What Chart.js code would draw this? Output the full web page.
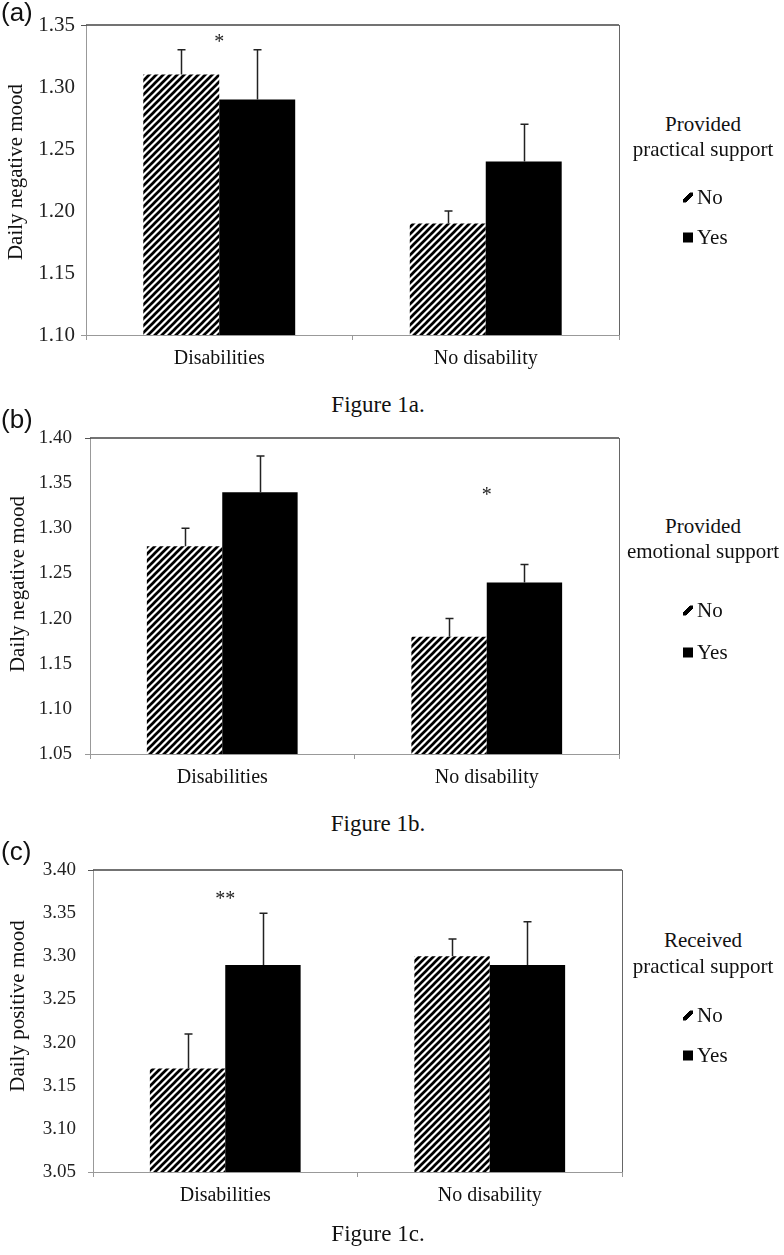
<!DOCTYPE html>
<html>
<head>
<meta charset="utf-8">
<script src="https://cdn.jsdelivr.net/npm/chart.js@4.4.0/dist/chart.umd.min.js"></script>
<style>
body { margin: 0; background: #fff; }
#page { position: relative; width: 784px; height: 1255px; overflow: hidden;
        font-family: 'Liberation Serif', 'Times New Roman', serif; color: #111; }
#page canvas { position: absolute; left: 0; }
.txt { position: absolute; white-space: nowrap; line-height: 1; transform: translate(-50%, -50%); }
.ytitle { position: absolute; white-space: nowrap; line-height: 1; font-size: 21px;
          transform: translate(-50%, -50%) rotate(-90deg); }
.tag { position: absolute; left: 1px; font-family: 'Liberation Sans', Arial, sans-serif;
       font-size: 26px; line-height: 1; transform: translateY(-50%); }
.key { position: absolute; font-size: 21px; line-height: 1; white-space: nowrap; transform: translateY(-50%); }
.key i { display: inline-block; width: 10px; height: 10px; margin-right: 4px; vertical-align: 1px; }
.key i.hatch { background: linear-gradient(135deg, transparent 36%, #000 36%, #000 64%, transparent 64%); }
.key i.solid { background: #000; }
</style>
</head>
<body>
<div id="page"></div>
<script>
const categories = ['Disabilities', 'No disability'];
const seriesNames = ['No', 'Yes'];

// Figure 1a - provided practical support, daily negative mood
const ticksA = [1.10, 1.15, 1.20, 1.25, 1.30, 1.35];
const noA = [1.31, 1.19];
const yesA = [1.29, 1.24];
const noErrA = [0.02, 0.01];
const yesErrA = [0.04, 0.03];
const sigA = ['*', ''];

// Figure 1b - provided emotional support, daily negative mood
const ticksB = [1.05, 1.10, 1.15, 1.20, 1.25, 1.30, 1.35, 1.40];
const noB = [1.28, 1.18];
const yesB = [1.34, 1.24];
const noErrB = [0.02, 0.02];
const yesErrB = [0.04, 0.02];
const sigB = ['', '*'];

// Figure 1c - received practical support, daily positive mood
const ticksC = [3.05, 3.10, 3.15, 3.20, 3.25, 3.30, 3.35, 3.40];
const noC = [3.17, 3.30];
const yesC = [3.29, 3.29];
const noErrC = [0.04, 0.02];
const yesErrC = [0.06, 0.05];
const sigC = ['**', ''];

const panels = [
  { tag: '(a)', tagY: 12, top: 0, height: 380, plotTop: 25, plotBottom: 335, left: 86, right: 619,
    ticks: ticksA, no: noA, yes: yesA, noErr: noErrA, yesErr: yesErrA, sig: sigA, sigAt: 1.3355,
    tickSize: 21, tickPad: 6, yTitle: 'Daily negative mood', yTitleX: 15, yTitleY: 172,
    legend: ['Provided', 'practical support'], legY: [124, 149, 197, 237],
    caption: 'Figure 1a.', capY: 404 },
  { tag: '(b)', tagY: 419, top: 400, height: 400, plotTop: 438, plotBottom: 754, left: 90, right: 619,
    ticks: ticksB, no: noB, yes: yesB, noErr: noErrB, yesErr: yesErrB, sig: sigB, sigAt: 1.336,
    tickSize: 19, tickPad: 13, yTitle: 'Daily negative mood', yTitleX: 17, yTitleY: 584,
    legend: ['Provided', 'emotional support'], legY: [526, 551, 610, 652],
    caption: 'Figure 1b.', capY: 823 },
  { tag: '(c)', tagY: 851, top: 830, height: 400, plotTop: 870, plotBottom: 1172, left: 93, right: 622,
    ticks: ticksC, no: noC, yes: yesC, noErr: noErrC, yesErr: yesErrC, sig: sigC, sigAt: 3.366,
    tickSize: 19, tickPad: 12, yTitle: 'Daily positive mood', yTitleX: 17, yTitleY: 1006,
    legend: ['Received', 'practical support'], legY: [940, 966, 1015, 1055],
    caption: 'Figure 1c.', capY: 1233 }
];

Chart.defaults.font.family = "'Liberation Serif', 'Times New Roman', serif";
Chart.defaults.color = '#111';

const page = document.getElementById('page');
const CW = 660;

function addDiv(cls, html, x, y, size) {
  const d = document.createElement('div');
  d.className = cls;
  d.innerHTML = html;
  if (x !== null) d.style.left = x + 'px';
  d.style.top = y + 'px';
  if (size) d.style.fontSize = size + 'px';
  page.appendChild(d);
  return d;
}

function hatchPattern(ctx) {
  const c = document.createElement('canvas');
  c.width = 7; c.height = 7;
  const g = c.getContext('2d');
  g.strokeStyle = '#000';
  g.lineWidth = 2.7;
  g.beginPath();
  g.moveTo(-1, 8); g.lineTo(8, -1);
  g.moveTo(-2, 2); g.lineTo(2, -2);
  g.moveTo(5, 9); g.lineTo(9, 5);
  g.stroke();
  return ctx.createPattern(c, 'repeat');
}

const extras = {
  id: 'extras',
  afterDatasetsDraw(chart, args, opts) {
    const { ctx, chartArea: a, scales: { x, y } } = chart;
    ctx.save();
    // top and right frame
    ctx.strokeStyle = '#444';
    ctx.lineWidth = 1.5;
    ctx.beginPath(); ctx.moveTo(a.left, a.top); ctx.lineTo(a.right, a.top); ctx.stroke();
    ctx.strokeStyle = '#666';
    ctx.lineWidth = 1;
    ctx.beginPath(); ctx.moveTo(a.right + 0.5, a.top); ctx.lineTo(a.right + 0.5, a.bottom); ctx.stroke();
    // error bars (upper only)
    ctx.strokeStyle = '#222';
    ctx.lineWidth = 1.5;
    chart.data.datasets.forEach((ds, i) => {
      chart.getDatasetMeta(i).data.forEach((bar, j) => {
        const yv = y.getPixelForValue(ds.data[j]);
        const ye = y.getPixelForValue(ds.data[j] + ds.errors[j]);
        const bx = Math.round(bar.x) + 0.5;
        ctx.beginPath();
        ctx.moveTo(bx, yv); ctx.lineTo(bx, ye);
        ctx.moveTo(bx - 4, ye); ctx.lineTo(bx + 4, ye);
        ctx.stroke();
      });
    });
    // significance marks
    ctx.fillStyle = '#222';
    ctx.font = "20px 'Liberation Serif', serif";
    ctx.textAlign = 'center';
    ctx.textBaseline = 'middle';
    opts.sig.forEach((s, j) => {
      if (!s) return;
      ctx.fillText(s, x.getPixelForValue(j), y.getPixelForValue(opts.sigAt));
    });
    ctx.restore();
  }
};

panels.forEach((p, k) => {
  const cv = document.createElement('canvas');
  cv.width = CW; cv.height = p.height;
  cv.style.top = p.top + 'px';
  page.appendChild(cv);
  const ctx = cv.getContext('2d');
  const last = p.ticks.length - 1;

  new Chart(ctx, {
    type: 'bar',
    data: {
      labels: categories,
      datasets: [
        { label: seriesNames[0], data: p.no, errors: p.noErr, backgroundColor: hatchPattern(ctx),
          categoryPercentage: 0.57, barPercentage: 1 },
        { label: seriesNames[1], data: p.yes, errors: p.yesErr, backgroundColor: '#000',
          categoryPercentage: 0.57, barPercentage: 1 }
      ]
    },
    options: {
      responsive: false,
      animation: false,
      layout: { padding: { top: p.plotTop - p.top, right: CW - p.right, left: 0, bottom: 0 } },
      plugins: {
        legend: { display: false },
        tooltip: { enabled: false },
        extras: { sig: p.sig, sigAt: p.sigAt }
      },
      scales: {
        x: {
          afterFit: s => { s.height = p.top + p.height - p.plotBottom; },
          border: { color: '#999', width: 1 },
          grid: { drawOnChartArea: false, tickLength: 5, color: '#999', offset: true },
          ticks: { padding: 7, color: '#111', font: { size: 20 } }
        },
        y: {
          min: p.ticks[0],
          max: p.ticks[last],
          afterBuildTicks: s => { s.ticks = p.ticks.map(v => ({ value: v })); },
          afterFit: s => { s.width = p.left; },
          border: { color: '#999', width: 1 },
          grid: {
            drawOnChartArea: false, tickLength: 5,
            color: c => c.index === 0 ? '#999' : (c.index === last ? '#555' : 'rgba(0,0,0,0)')
          },
          ticks: { padding: p.tickPad, color: '#222', font: { size: p.tickSize },
                   callback: v => Number(v).toFixed(2) }
        }
      }
    },
    plugins: [extras]
  });

  addDiv('tag', p.tag, null, p.tagY);
  addDiv('ytitle', p.yTitle, p.yTitleX, p.yTitleY);
  addDiv('txt', p.legend[0], 703, p.legY[0], 21);
  addDiv('txt', p.legend[1], 703, p.legY[1], 21);
  addDiv('key', '<i class="hatch"></i>' + seriesNames[0], 683, p.legY[2]);
  addDiv('key', '<i class="solid"></i>' + seriesNames[1], 683, p.legY[3]);
  addDiv('txt', p.caption, 378, p.capY, 23);
});
</script>
</body>
</html>
